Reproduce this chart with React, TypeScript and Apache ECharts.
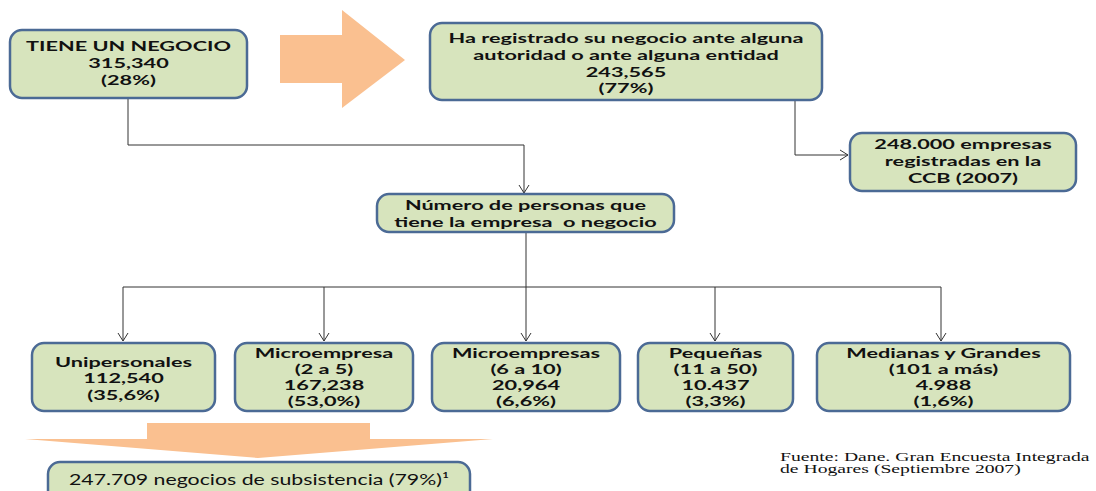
import React, { useEffect, useRef } from "react";
import * as echarts from "echarts";

// ---- Data ----
const mainLines = ["TIENE UN NEGOCIO", "315,340", "(28%)"];
const registeredLines = [
  "Ha registrado su negocio ante alguna",
  "autoridad o ante alguna entidad",
  "243,565",
  "(77%)",
];
const ccbLines = ["248.000 empresas", "registradas en la", "CCB (2007)"];
const peopleLines = ["Número de personas que", "tiene la empresa  o negocio"];
const sizeCategories = ["Unipersonales", "Microempresa", "Microempresas", "Pequeñas", "Medianas y Grandes"];
const sizeRanges = ["", "(2 a 5)", "(6 a 10)", "(11 a 50)", "(101 a más)"];
const sizeCounts = ["112,540", "167,238", "20,964", "10.437", "4.988"];
const sizePercents = ["(35,6%)", "(53,0%)", "(6,6%)", "(3,3%)", "(1,6%)"];
const subsistenceText = "247.709 negocios de subsistencia (79%)¹";
const sourceLines = ["Fuente: Dane. Gran Encuesta Integrada", "de Hogares (Septiembre 2007)"];

// ---- Layout ----
const SX = 1.55;
const FILL = "#D7E4BD";
const STROKE = "#4B6A95";
const ORANGE = "#FAC090";
const LINE = "#333333";
const FONT = "Lato";

function box(x: number, y: number, w: number, h: number) {
  return {
    type: "rect",
    shape: { x, y, width: w, height: h, r: 12 },
    style: { fill: FILL, stroke: STROKE, lineWidth: 2.5 },
    silent: true,
  };
}

function label(x: number, y: number, text: string, size = 14, weight = "bold", family = FONT, align = "center", sx = SX) {
  return {
    type: "text",
    x,
    y,
    scaleX: sx,
    silent: true,
    style: {
      text,
      fill: "#111111",
      fontSize: size,
      fontWeight: weight,
      fontFamily: family,
      textAlign: align,
      textVerticalAlign: "middle",
      align,
      verticalAlign: "middle",
    },
  };
}

function lines(cx: number, ys: number[], texts: string[]) {
  return texts.map((t, i) => label(cx, ys[i], t));
}

function pl(points: number[][]) {
  return {
    type: "polyline",
    shape: { points },
    style: { stroke: LINE, lineWidth: 1, fill: null },
    silent: true,
  };
}

function arrowDown(x: number, y: number) {
  return pl([[x - 5, y - 8], [x, y], [x + 5, y - 8]]);
}

export default function App() {
  const ref = useRef<HTMLDivElement>(null);
  useEffect(() => {
    if (!ref.current) return;
    const chart = echarts.init(ref.current, null, { renderer: "svg" });

    const rowBoxes = [
      [32, 183],
      [235, 178],
      [432, 188],
      [638, 155],
      [817, 253],
    ];
    const rowTop = 343;
    const rowH = 68;
    const dropX = [123, 324, 526, 715, 941];

    const elements: any[] = [];

    // Orange arrows
    elements.push({
      type: "polygon",
      shape: { points: [[280, 35], [342, 35], [342, 10], [405, 60], [342, 108], [342, 83], [280, 83]] },
      style: { fill: ORANGE },
      silent: true,
    });
    elements.push({
      type: "polygon",
      shape: { points: [[147, 423], [370, 423], [370, 439], [493, 439], [258, 458], [25, 439], [147, 439]] },
      style: { fill: ORANGE },
      silent: true,
    });

    // Connectors
    elements.push(pl([[128, 98], [128, 145], [524, 145], [524, 193]]));
    elements.push(arrowDown(524, 193));
    elements.push(pl([[795, 100], [795, 155], [848, 155]]));
    elements.push(pl([[840, 150], [848, 155], [840, 160]]));
    elements.push(pl([[526, 232], [526, 287]]));
    elements.push(pl([[dropX[0], 287], [dropX[dropX.length - 1], 287]]));
    dropX.forEach((x) => {
      elements.push(pl([[x, 287], [x, 341]]));
      elements.push(arrowDown(x, 341));
    });

    // Top boxes
    elements.push(box(10, 30, 237, 68));
    elements.push(...lines(128.5, [46, 63, 80], mainLines));
    elements.push(box(430, 23, 392, 77));
    elements.push(...lines(626, [38, 55, 72, 88], registeredLines));
    elements.push(box(850, 133, 226, 58));
    elements.push(...lines(963, [144, 161, 178], ccbLines));
    elements.push(box(377, 194, 297, 38));
    elements.push(...lines(525.5, [205, 222], peopleLines));

    // Row boxes
    sizeCategories.forEach((cat, i) => {
      const [bx, bw] = rowBoxes[i];
      elements.push(box(bx, rowTop, bw, rowH));
      const texts = [cat, sizeRanges[i], sizeCounts[i], sizePercents[i]].filter((t) => t !== "");
      const ys = texts.length === 3 ? [362, 378, 395] : [353, 369, 385, 401];
      elements.push(...lines(bx + bw / 2, ys, texts));
    });

    // Subsistence box
    elements.push(box(48, 462, 422, 48));
    elements.push(label(259, 479, subsistenceText, 15, "normal", FONT, "center", 1.42));

    // Source
    elements.push(label(780, 457, sourceLines[0], 12, "normal", "Liberation Serif", "left", 1.64));
    elements.push(label(780, 469, sourceLines[1], 12, "normal", "Liberation Serif", "left", 1.64));

    chart.setOption({
      animation: false,
      backgroundColor: "#ffffff",
      graphic: { elements },
    });
    return () => chart.dispose();
  }, []);

  return (
    <div
      ref={ref}
      style={{ position: "fixed", left: 0, top: 0, width: 1096, height: 491, background: "#fff" }}
    />
  );
}
